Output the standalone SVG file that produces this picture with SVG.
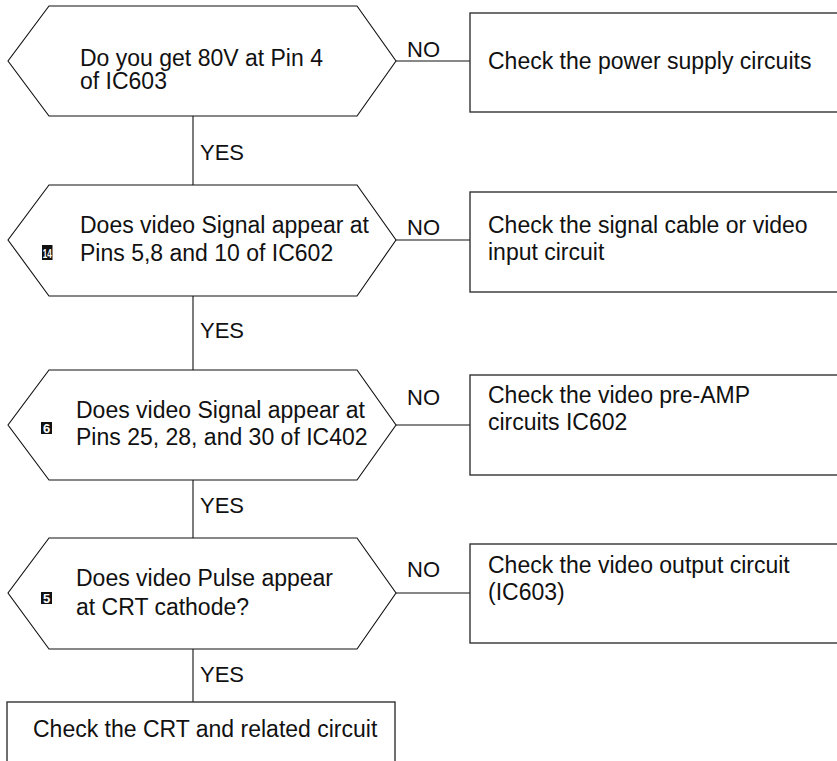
<svg xmlns="http://www.w3.org/2000/svg" width="837" height="761" viewBox="0 0 837 761">
<style>
.hex{fill:#fff;stroke:#111;stroke-width:1.1}
.box{fill:#fff;stroke:#333;stroke-width:1.4}
.t{font-family:"Liberation Sans",Arial,sans-serif;font-size:23px;fill:#111}
.lbl{font-family:"Liberation Sans",Arial,sans-serif;font-size:22px;fill:#111}
.conn{stroke:#111;stroke-width:1.1;fill:none}
.badge{fill:#111}
.bt{font-family:"Liberation Sans",Arial,sans-serif;font-weight:bold;fill:#fff}
</style>
<rect width="837" height="761" fill="#fff"/>
<g id="connectors">
<line class="conn" x1="193" y1="116" x2="193" y2="185"/>
<line class="conn" x1="193" y1="296" x2="193" y2="370"/>
<line class="conn" x1="193" y1="480" x2="193" y2="538"/>
<line class="conn" x1="193" y1="649" x2="193" y2="702"/>
<line class="conn" x1="396" y1="61" x2="470" y2="61"/>
<line class="conn" x1="396" y1="240" x2="470" y2="240"/>
<line class="conn" x1="396" y1="425" x2="470" y2="425"/>
<line class="conn" x1="396" y1="593" x2="470" y2="593"/>
<text class="lbl" x="200" y="160">YES</text>
<text class="lbl" x="200" y="338">YES</text>
<text class="lbl" x="200" y="513">YES</text>
<text class="lbl" x="200" y="682">YES</text>
<text class="lbl" x="407" y="57">NO</text>
<text class="lbl" x="407" y="235">NO</text>
<text class="lbl" x="407" y="405">NO</text>
<text class="lbl" x="407" y="577">NO</text>
</g>
<g id="q1">
<polygon class="hex" points="49,6 357,6 396,61 357,116 49,116 8,61"/>
<text class="t" x="80" y="66">Do you get 80V at Pin 4</text>
<text class="t" x="80" y="89">of IC603</text>
</g>
<g id="a1">
<rect class="box" x="470" y="13" width="400" height="99"/>
<text class="t" x="488" y="69">Check the power supply circuits</text>
</g>
<g id="q2">
<polygon class="hex" points="49,185 357,185 396,240 357,296 49,296 8,240"/>
<rect class="badge" x="42" y="245" width="10.5" height="15"/>
<text class="bt" x="47.2" y="258" font-size="13" text-anchor="middle" textLength="9" lengthAdjust="spacingAndGlyphs">14</text>
<text class="t" x="80" y="233">Does video Signal appear at</text>
<text class="t" x="80" y="261">Pins 5,8 and 10 of IC602</text>
</g>
<g id="a2">
<rect class="box" x="470" y="192" width="400" height="100"/>
<text class="t" x="488" y="233">Check the signal cable or video</text>
<text class="t" x="488" y="260">input circuit</text>
</g>
<g id="q3">
<polygon class="hex" points="49,370 357,370 396,425 357,480 49,480 8,425"/>
<rect class="badge" x="41" y="422" width="11" height="12"/>
<text class="bt" x="46.5" y="432.5" font-size="13" text-anchor="middle">6</text>
<text class="t" x="76" y="418">Does video Signal appear at</text>
<text class="t" x="76" y="445">Pins 25, 28, and 30 of IC402</text>
</g>
<g id="a3">
<rect class="box" x="470" y="375" width="400" height="100"/>
<text class="t" x="488" y="403">Check the video pre-AMP</text>
<text class="t" x="488" y="430">circuits IC602</text>
</g>
<g id="q4">
<polygon class="hex" points="49,538 357,538 396,593 357,649 49,649 8,593"/>
<rect class="badge" x="41" y="592" width="11" height="12"/>
<text class="bt" x="46.5" y="602.5" font-size="13" text-anchor="middle">5</text>
<text class="t" x="76" y="586">Does video Pulse appear</text>
<text class="t" x="76" y="615">at CRT cathode?</text>
</g>
<g id="a4">
<rect class="box" x="470" y="544" width="400" height="99"/>
<text class="t" x="488" y="573">Check the video output circuit</text>
<text class="t" x="488" y="600">(IC603)</text>
</g>
<g id="end">
<rect class="box" x="7" y="702" width="388" height="80"/>
<text class="t" x="33" y="737">Check the CRT and related circuit</text>
</g>
</svg>
